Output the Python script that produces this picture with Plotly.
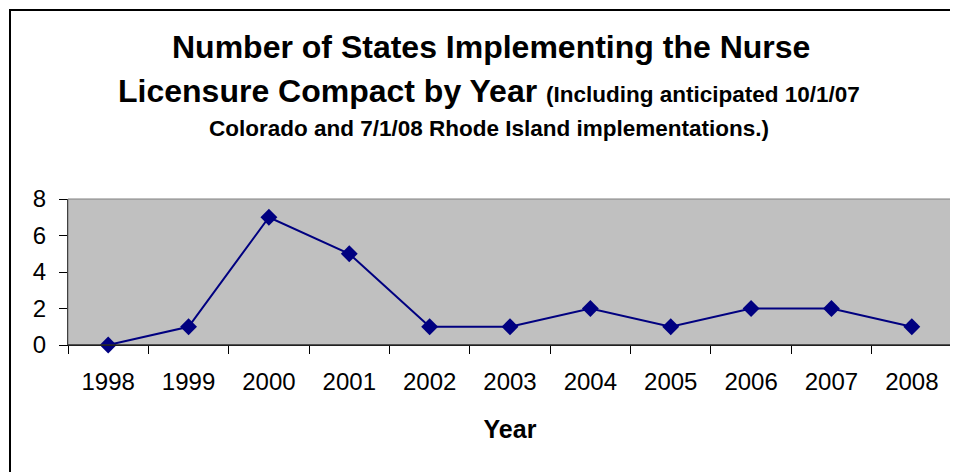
import plotly.graph_objects as go

years = ["1998", "1999", "2000", "2001", "2002", "2003", "2004", "2005", "2006", "2007", "2008"]
states = [0, 1, 7, 5, 1, 1, 2, 1, 2, 2, 1]
y_ticks = [0, 2, 4, 6, 8]

OFF = 8  # page body margin
W, H = 958 - OFF, 472 - OFF
# plot area in screen coords
SX0, SX1, SY0, SY1 = 68, 952, 199, 345
L, T = SX0 - OFF, SY0 - OFF
R, B = W - (SX1 - OFF), H - (SY1 - OFF)
pw, ph = W - L - R, H - T - B

def px(x):
    return (x - OFF - L) / pw

def py(y):
    return 1 - (y - OFF - T) / ph

fig = go.Figure()
fig.add_trace(go.Scatter(
    x=years, y=states, mode="lines+markers",
    line=dict(color="#000080", width=2),
    marker=dict(symbol="diamond", size=13, color="#000080"),
    cliponaxis=False, showlegend=False,
))

font = "Liberation Sans, Arial, sans-serif"
fig.update_layout(
    width=W, height=H,
    margin=dict(l=L, r=R, t=T, b=B),
    paper_bgcolor="white", plot_bgcolor="#C0C0C0",
    font=dict(family=font, color="black"),
    xaxis=dict(type="category", range=[-0.5, len(years) - 0.5], tickson="boundaries",
               ticks="outside", ticklen=8,
               tickcolor="black", showline=True, linecolor="black", linewidth=1,
               showgrid=False, tickfont=dict(size=24), ticklabelstandoff=15,
               title=dict(text="<b>Year</b>", font=dict(size=25), standoff=26)),
    yaxis=dict(range=[0, 8], tickvals=y_ticks, ticks="outside", ticklen=8,
               tickcolor="black", showline=True, linecolor="black", linewidth=1,
               showgrid=False, zeroline=False, tickfont=dict(size=24),
               ticklabelstandoff=8),
    shapes=[
        dict(type="rect", xref="paper", yref="paper", x0=0, x1=1, y0=0, y1=1,
             line=dict(color="#808080", width=1), layer="above"),
        dict(type="line", xref="paper", yref="paper", x0=0, x1=1, y0=0, y1=0,
             line=dict(color="black", width=1), layer="above"),
        dict(type="rect", xref="paper", yref="paper", x0=px(10), x1=px(975),
             y0=py(490), y1=py(10), line=dict(color="black", width=2)),
    ],
    annotations=[
        dict(text="<b>Number of States Implementing the Nurse</b>", xref="paper", yref="paper",
             x=px(491), y=py(47), showarrow=False, font=dict(size=32), xanchor="center", yanchor="middle"),
        dict(text="<b>Licensure Compact by Year <span style='font-size:22.5px'>(Including anticipated 10/1/07</span></b>",
             xref="paper", yref="paper",
             x=px(489), y=py(91), showarrow=False, font=dict(size=32), xanchor="center", yanchor="middle"),
        dict(text="<b>Colorado and 7/1/08 Rhode Island implementations.)</b>", xref="paper", yref="paper",
             x=px(489), y=py(128), showarrow=False, font=dict(size=22.5), xanchor="center", yanchor="middle"),
    ],
)

fig.write_html("out.html")
